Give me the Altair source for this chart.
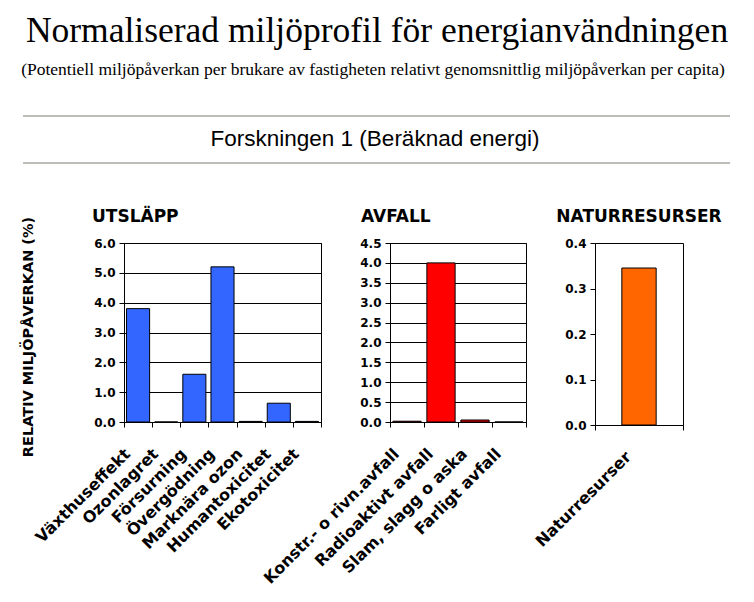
import altair as alt
import pandas as pd

# ---- data ----
main_title = "Normaliserad miljöprofil för energianvändningen"
sub_title = "(Potentiell miljöpåverkan per brukare av fastigheten relativt genomsnittlig miljöpåverkan per capita)"
section_title = "Forskningen 1 (Beräknad energi)"
y_title = "RELATIV MILJÖPÅVERKAN (%)"

utslapp_cats = ["Växthuseffekt", "Ozonlagret", "Försurning", "Övergödning",
                "Marknära ozon", "Humantoxicitet", "Ekotoxicitet"]
utslapp_vals = [3.8, 0.0, 1.6, 5.2, 0.02, 0.63, 0.02]
utslapp_ticks = [0.0, 1.0, 2.0, 3.0, 4.0, 5.0, 6.0]

avfall_cats = ["Konstr.- o rivn.avfall", "Radioaktivt avfall", "Slam, slagg o aska", "Farligt avfall"]
avfall_vals = [0.02, 4.0, 0.05, 0.0]
avfall_ticks = [0.0, 0.5, 1.0, 1.5, 2.0, 2.5, 3.0, 3.5, 4.0, 4.5]

natur_cats = ["Naturresurser"]
natur_vals = [0.345]
natur_ticks = [0.0, 0.1, 0.2, 0.3, 0.4]

LABEL_FONT = "DejaVu Sans"


def panel(cats, vals, ticks, color, title, width, height, grid, band,
          title_anchor="start", title_dx=0, title_offset=11, ytitle=None):
    df = pd.DataFrame({"cat": cats, "val": vals})
    x = alt.X(
        "cat:N", sort=cats,
        scale=alt.Scale(paddingInner=0, paddingOuter=0),
        axis=alt.Axis(title=None, labelAngle=-45, labelAlign="right",
                      labelBaseline="middle", tickBand="extent",
                      labelFont=LABEL_FONT, labelFontWeight="bold",
                      labelFontSize=16, labelPadding=24, labelOffset=-11,
                      labelLimit=400, labelOverlap=False, tickSize=5),
    )
    yaxis = dict(values=ticks, format=".1f", grid=grid, gridColor="black",
                 gridOpacity=1, labelFont=LABEL_FONT, labelFontWeight="bold",
                 labelFontSize=12, labelPadding=4, tickSize=5,
                 labelOverlap=False)
    if ytitle:
        yaxis.update(title=ytitle, titleFont=LABEL_FONT, titleFontWeight="bold",
                     titleFontSize=14.5, titlePadding=58, titleColor="black",
                     titleY=height / 2 + 4)
    else:
        yaxis.update(title=None)
    y = alt.Y("val:Q", scale=alt.Scale(domain=[0, ticks[-1]], nice=False),
              axis=alt.Axis(**yaxis))
    return (
        alt.Chart(df)
        .mark_bar(color=color, stroke="black", strokeWidth=1,
                  width=alt.RelativeBandSize(band))
        .encode(x=x, y=y)
        .properties(
            width=width, height=height,
            title=alt.TitleParams(title, anchor=title_anchor, dx=title_dx,
                                  frame="group",
                                  font=LABEL_FONT, fontWeight="bold",
                                  fontSize=17, color="black",
                                  offset=title_offset),
        )
    )


p1 = panel(utslapp_cats, utslapp_vals, utslapp_ticks, "#3366FF", "UTSLÄPP",
           197, 179, True, 0.82, title_dx=-32, title_offset=-10, ytitle=y_title)
p2 = panel(avfall_cats, avfall_vals, avfall_ticks, "#FF0000", "AVFALL",
           136, 179, True, 0.83, title_dx=-29)
p3 = panel(natur_cats, natur_vals, natur_ticks, "#FF6600", "NATURRESURSER",
           88, 182, False, 0.39, title_anchor="middle")

panels = alt.hconcat(p1, p2, p3, spacing=69, bounds="flush")

# ---- header ----
OX = 124  # header coordinates relative to the first plot's left edge
OY = 8
hdr_df = pd.DataFrame({"t": [main_title, sub_title, section_title]})
base = alt.Chart(hdr_df)
t_main = base.transform_filter(alt.datum.t == main_title).mark_text(
    font="Liberation Serif", fontSize=35.5, baseline="alphabetic", align="center", color="black"
).encode(text="t:N", x=alt.value(377 - OX), y=alt.value(42 - OY))
t_sub = base.transform_filter(alt.datum.t == sub_title).mark_text(
    font="Liberation Serif", fontSize=17.5, baseline="alphabetic", align="center", color="black"
).encode(text="t:N", x=alt.value(373 - OX), y=alt.value(75 - OY))
t_sec = base.transform_filter(alt.datum.t == section_title).mark_text(
    font="Liberation Sans", fontSize=22.5, baseline="alphabetic", align="center", color="black"
).encode(text="t:N", x=alt.value(375 - OX), y=alt.value(146 - OY))
line1 = base.transform_filter(alt.datum.t == section_title).mark_rule(
    color="#A9A9A0", strokeWidth=1.5
).encode(x=alt.value(23 - OX), x2=alt.value(730 - OX), y=alt.value(116 - OY))
line2 = base.transform_filter(alt.datum.t == section_title).mark_rule(
    color="#A9A9A0", strokeWidth=1.5
).encode(x=alt.value(23 - OX), x2=alt.value(730 - OX), y=alt.value(163 - OY))

header = alt.layer(t_main, t_sub, t_sec, line1, line2).properties(
    width=400, height=160, view=alt.ViewConfig(stroke=None)
)

chart = (
    alt.vconcat(header, panels, spacing=75, bounds="flush")
    .properties(padding={"left": 12, "top": 0, "right": 0, "bottom": 0},
                background="white")
    .configure_view(stroke="black", strokeWidth=1)
    .configure_axis(domainColor="black", tickColor="black", labelColor="black",
                    domainWidth=1, tickWidth=1, gridWidth=1)
)

chart.save("out.html", embed_options={"renderer": "svg", "actions": False})
